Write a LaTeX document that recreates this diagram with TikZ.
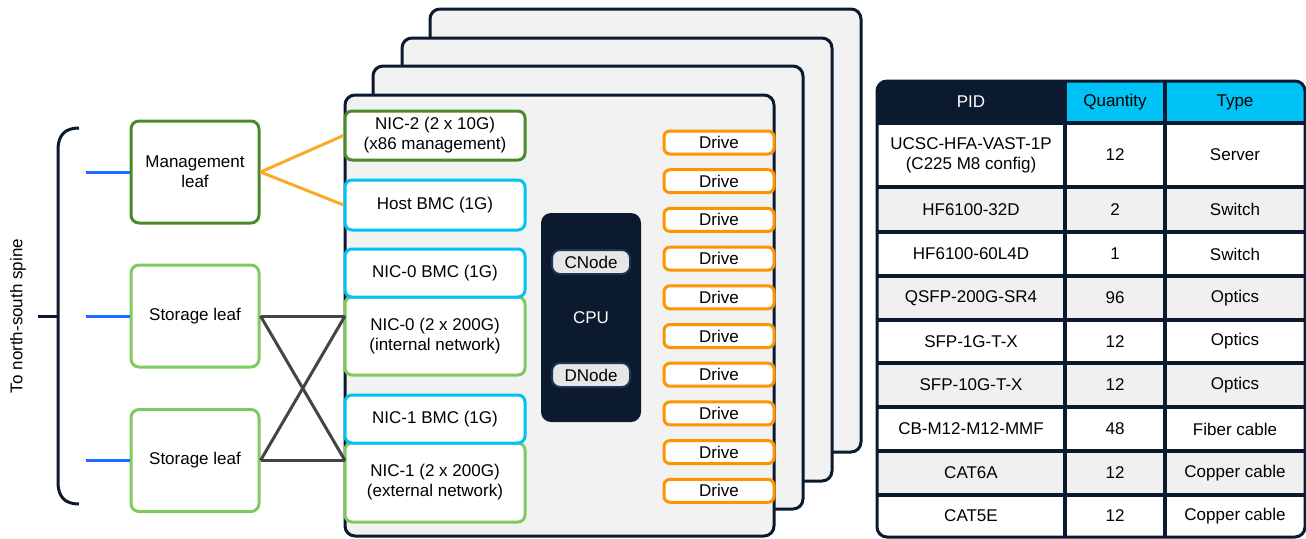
\documentclass[tikz,border=0pt]{standalone}
\usepackage{fontspec}
\setmainfont{Liberation Sans}
\definecolor{navy}{HTML}{0B1A2E}
\definecolor{boardfill}{HTML}{F2F2F2}
\definecolor{dgreen}{HTML}{4A8A2A}
\definecolor{lgreen}{HTML}{7CCB5C}
\definecolor{cyanc}{HTML}{00C3F5}
\definecolor{orangec}{HTML}{FF9300}
\definecolor{orangel}{HTML}{FBAA2A}
\definecolor{bluel}{HTML}{1E6BFF}
\definecolor{grayx}{HTML}{444444}
\definecolor{rowgray}{HTML}{F0F0F0}
\definecolor{cnodefill}{HTML}{E6E6E6}
\definecolor{cnodeline}{HTML}{1C3354}
\tikzset{
  board/.style={draw=navy, fill=boardfill, line width=3pt, rounded corners=10pt},
  leafbox/.style={draw, line width=3pt, rounded corners=8pt, fill=white, minimum width=128pt, minimum height=102pt, align=center, inner sep=0pt},
  nicbox/.style={draw, line width=3pt, rounded corners=7pt, fill=white, minimum width=180pt, align=center, inner sep=0pt},
  drivebox/.style={draw=orangec, line width=3pt, rounded corners=6pt, fill=white, minimum width=110pt, minimum height=23pt, inner sep=0pt},
  nodebox/.style={draw=cnodeline, fill=cnodefill, line width=2pt, rounded corners=8pt, minimum width=78pt, minimum height=24pt, inner sep=0pt},
  uplink/.style={draw=bluel, line width=3pt},
  mgmtlink/.style={draw=orangel, line width=3pt},
  datalink/.style={draw=grayx, line width=3pt},
  celltext/.style={align=center, inner sep=0pt},
  gridline/.style={draw=navy, line width=3.5pt}
}
\begin{document}
\begin{tikzpicture}[x=1pt, y=-1pt, font=\fontsize{17}{20}\selectfont]
\useasboundingbox (0,0) rectangle (1306,538);

% spine bracket
\draw[navy, line width=3pt] (79,128) .. controls (65,128) and (58,135) .. (58,150) -- (58,482) .. controls (58,497) and (65,504) .. (79,504);
\coordinate (spine) at (38,316);
\coordinate (brk) at (58,316);
\draw[navy, line width=3pt] (spine) -- (brk);
\node[rotate=90, inner sep=0pt] (spinelbl) at (18,316) {To north-south spine};

% leaves
\node[leafbox, draw=dgreen] (mgmt) at (195,172) {Management\\leaf};
\node[leafbox, draw=lgreen] (s1) at (195,316) {Storage leaf};
\node[leafbox, draw=lgreen] (s2) at (195,460.5) {Storage leaf};

\coordinate (b1) at (86,172);
\coordinate (b2) at (86,316);
\coordinate (b3) at (86,460.5);
\draw[uplink] (b1) -- (mgmt.west);
\draw[uplink] (b2) -- (s1.west);
\draw[uplink] (b3) -- (s2.west);

% boards
\draw[board] (430,9) rectangle (861,452);
\draw[board] (402,38) rectangle (832,481);
\draw[board] (373,66) rectangle (803,509);
\draw[board] (345,95) rectangle (774,536);

% NICs
\node[nicbox, draw=dgreen, minimum height=49pt] (nic2) at (435,135.5) {NIC-2 (2 x 10G)\\(x86 management)};
\node[nicbox, draw=cyanc, minimum height=50pt] (hbmc) at (435,205) {Host BMC (1G)};
\node[nicbox, draw=lgreen, minimum height=78pt] (nic0) at (435,336) {NIC-0 (2 x 200G)\\(internal network)};
\node[nicbox, draw=cyanc, minimum height=48pt] (n0bmc) at (435,273) {NIC-0 BMC (1G)};
\node[nicbox, draw=lgreen, minimum height=79pt] (nic1) at (435,482.5) {NIC-1 (2 x 200G)\\(external network)};
\node[nicbox, draw=cyanc, minimum height=48pt] (n1bmc) at (435,419) {NIC-1 BMC (1G)};

% CPU
\node[fill=navy, rounded corners=10pt, minimum width=100pt, minimum height=209pt, inner sep=0pt] (cpu) at (591,317.5) {};
\node[text=white, inner sep=0pt] (cpulbl) at (591,318) {CPU};
\node[nodebox] (cnode) at (591,262) {CNode};
\node[nodebox] (dnode) at (591,375) {DNode};

% drives
\foreach \i in {0,...,9} {
  \node[drivebox] (drv\i) at (719,{142.5+38.7*\i}) {Drive};
}

% connectors
\draw[mgmtlink] (mgmt.east) -- (nic2.west);
\draw[mgmtlink] (mgmt.east) -- (hbmc.west);
\coordinate (x1) at (345,316);
\coordinate (x2) at (345,460.5);
\draw[datalink] (s1.east) -- (x1);
\draw[datalink] (s2.east) -- (x2);
\draw[datalink] (s1.east) -- (x2);
\draw[datalink] (s2.east) -- (x1);

% table
\begin{scope}
\clip[rounded corners=10pt] (877,81) rectangle (1305,537);
\fill[white] (877,81) rectangle (1305,537);
\fill[navy] (877,81) rectangle (1065,123);
\fill[cyanc] (1065,81) rectangle (1305,123);
\fill[rowgray] (877,187) rectangle (1305,232);
\fill[rowgray] (877,276) rectangle (1305,320);
\fill[rowgray] (877,363) rectangle (1305,407);
\fill[rowgray] (877,451) rectangle (1305,495);
\foreach \yy in {123,187,232,276,320,363,407,451,495} {
  \draw[gridline] (877,\yy) -- (1305,\yy);
}
\draw[gridline] (1065,81) -- (1065,537);
\draw[gridline] (1165,81) -- (1165,537);
\end{scope}
\draw[navy, line width=3pt, rounded corners=10pt] (877,81) rectangle (1305,537);

\node[celltext, text=white] (hpid) at (971,102) {PID};
\node[celltext] (hqty) at (1115,102) {Quantity};
\node[celltext] (htype) at (1235,102) {Type};

\foreach \n/\yc/\pid/\qty/\typ in {
  1/155/{UCSC-HFA-VAST-1P\\(C225 M8 config)}/12/Server,
  2/209.5/{HF6100-32D}/2/Switch,
  3/254/{HF6100-60L4D}/1/Switch,
  4/298/{QSFP-200G-SR4}/96/Optics,
  5/341.5/{SFP-1G-T-X}/12/Optics,
  6/385/{SFP-10G-T-X}/12/Optics,
  7/429/{CB-M12-M12-MMF}/48/Fiber cable,
  8/473/{CAT6A}/12/Copper cable,
  9/516/{CAT5E}/12/Copper cable} {
  \node[celltext] (pid\n) at (971,\yc) {\pid};
  \node[celltext] (qty\n) at (1115,\yc) {\qty};
  \node[celltext] (typ\n) at (1235,\yc) {\typ};
}
\end{tikzpicture}
\end{document}
